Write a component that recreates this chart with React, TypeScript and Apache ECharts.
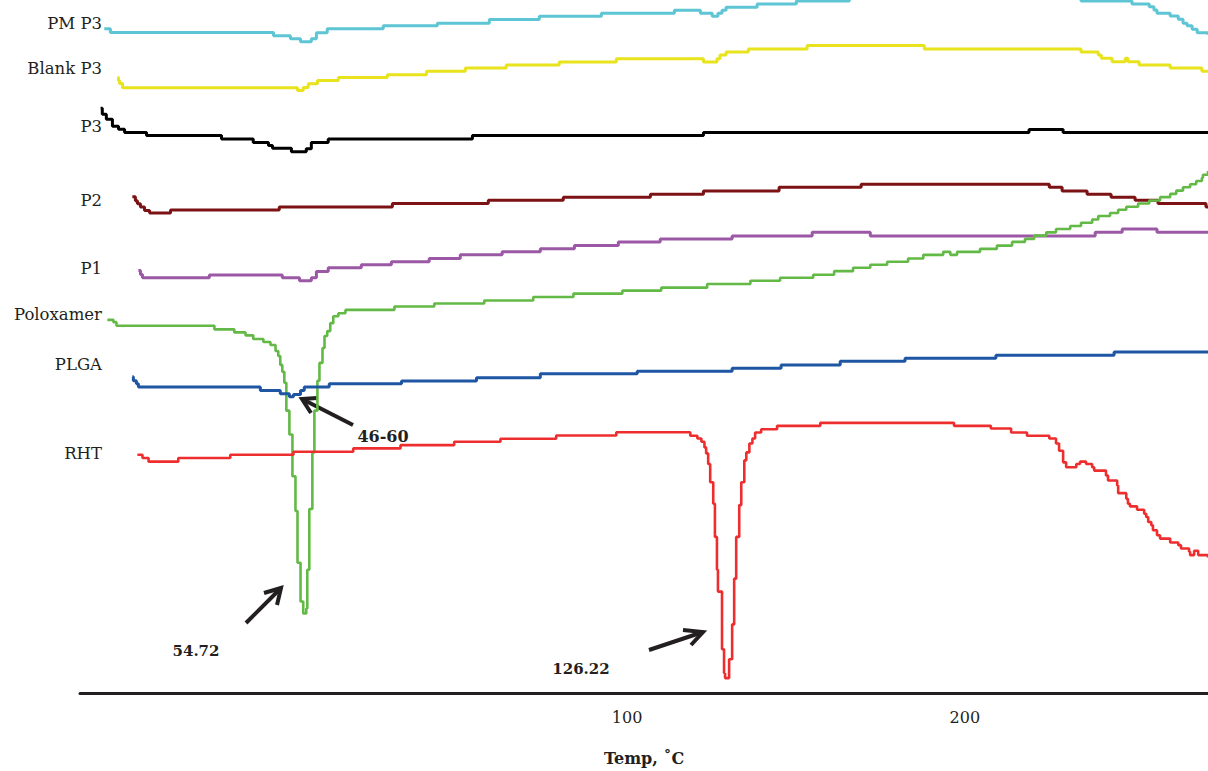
import { useEffect, useRef } from "react";
import * as echarts from "echarts";

type P = [number, number];

const seriesNames = ["PM P3", "Blank P3", "P3", "P2", "P1", "Poloxamer", "PLGA", "RHT"];
const seriesColors = ["#5ec5d5", "#e8e31c", "#000000", "#7c1214", "#9b59a5", "#63b946", "#1e56a4", "#ee2e2e"];
const xTickValues = [100, 200];
const xAxisTitle = "Temp, \u02DAC";

// Temperature (°C) vs heat-flow signal (arbitrary units, curves offset)
const pmP3: P[] = [
  [-54.8, 668], [-53.0, 664.3], [-4.7, 661], [0.3, 658], [3.3, 655], [6.5, 658], [8.0, 664], [11.2, 668],
  [27.8, 671], [43.8, 673.7], [59.2, 677.3], [74.0, 680.7], [92.4, 683.7], [114.0, 686.7], [121.7, 683.7],
  [125.2, 680.7], [126.9, 683.7], [128.1, 686.7], [129.3, 689.7], [138.5, 693], [150.1, 696], [165.8, 701],
  [234.4, 696], [249.5, 693], [254.6, 690.3], [256.0, 687], [256.9, 683.7], [260.8, 681], [263.2, 677.7],
  [264.6, 673.7], [265.8, 671], [267.3, 667.7], [268.8, 664], [272.0, 662],
];

const blankP3: P[] = [
  [-50.9, 619], [-50.6, 616], [-50.3, 613], [-49.4, 608.7], [2.4, 606], [4.1, 609], [5.6, 612.7], [8.3, 616],
  [14.5, 619], [29.0, 621.7], [40.6, 625.3], [52.1, 628.7], [64.2, 631.7], [79.9, 634.7], [96.8, 638],
  [122.6, 634.7], [126.6, 638], [127.5, 641.7], [129.3, 644.7], [135.9, 647.7], [153.3, 651.3], [188.0, 647.7],
  [234.4, 644.7], [239.5, 641.7], [240.4, 638.3], [243.6, 635], [247.5, 638.3], [248.3, 635], [251.6, 631.7],
  [260.8, 628.7], [270.2, 625.3], [272.0, 625.3],
];

const p3: P[] = [
  [-55.9, 588], [-55.4, 582], [-54.2, 577], [-52.4, 570], [-50.6, 567], [-48.8, 563.7], [-42.3, 560.7],
  [-20.1, 557.3], [-10.7, 553.7], [-6.2, 550.7], [-5.0, 548], [0.6, 544.3], [5.0, 547.3], [6.5, 553.7],
  [11.5, 557.3], [54.2, 560.7], [122.6, 563.7], [219.0, 566.7], [229.1, 563.7], [272.0, 563.7],
];

const p2: P[] = [
  [-46.5, 499], [-45.6, 495], [-45.0, 492], [-44.1, 488.7], [-42.9, 485.3], [-41.4, 482.7], [-35.2, 485.7],
  [-3.0, 488.7], [30.5, 492.3], [58.9, 495.7], [81.1, 498.7], [106.9, 501.7], [122.6, 505], [145.0, 508.7],
  [169.3, 511.7], [225.0, 508.7], [228.8, 505], [236.2, 501.7], [243.3, 498.7], [250.4, 495.7], [257.2, 492.3],
  [271.4, 488.7], [272.0, 488.7],
];

const p1: P[] = [
  [-44.7, 425], [-44.1, 421], [-43.5, 417.7], [-23.7, 420.3], [-2.1, 417.7], [3.0, 414.7], [6.5, 417.7],
  [8.0, 424], [11.5, 427.7], [21.3, 430.7], [30.2, 433.7], [41.4, 437], [50.6, 440.7], [63.0, 443.7],
  [74.3, 446.7], [84.4, 450], [97.4, 453.7], [109.8, 456.7], [131.1, 459.7], [154.8, 463.3], [172.0, 459.7],
  [238.6, 463.3], [246.6, 466.7], [256.9, 463.3], [272.0, 463.3],
];

const poloxamer: P[] = [
  [-53.9, 375.3], [-52.1, 373], [-51.2, 369.3], [-22.2, 365.7], [-16.3, 362.7], [-13.0, 359.7], [-10.7, 356],
  [-7.7, 353], [-5.6, 350], [-4.1, 344], [-3.3, 339], [-2.7, 330], [-2.1, 323], [-1.5, 312], [-0.9, 284],
  [0.0, 260], [0.9, 218], [1.8, 183], [2.4, 131], [3.3, 92], [4.1, 80], [5.0, 85], [5.3, 124], [5.9, 185],
  [6.8, 242], [7.4, 284], [8.3, 314], [8.9, 332], [9.8, 347], [10.4, 359], [11.2, 364], [12.1, 372],
  [13.0, 379], [14.5, 382], [16.6, 385.3], [31.1, 388.7], [42.9, 391.7], [57.7, 394.7], [72.2, 398.3],
  [84.1, 401.7], [98.6, 404.7], [110.1, 407.7], [123.7, 411.3], [136.5, 414.7], [145.3, 417.7], [155.1, 420.7],
  [161.3, 424.3], [166.9, 427.7], [172.0, 430.7], [177.0, 433.7], [183.2, 437], [187.7, 440.7], [193.6, 443.7],
  [195.7, 440.7], [197.7, 443.7], [204.5, 446.7], [209.5, 450], [214.0, 453.7], [217.8, 456.7], [220.5, 460],
  [224.1, 463.3], [227.0, 466.7], [231.2, 469.7], [234.4, 473], [237.7, 476.3], [239.5, 479.7], [243.0, 482.7],
  [245.4, 486], [247.8, 489], [251.3, 492.3], [254.6, 495.3], [257.8, 498.7], [260.8, 502], [262.6, 505.3],
  [264.6, 508.7], [266.7, 511.7], [268.5, 515], [270.2, 518.3], [270.5, 521.3], [272.0, 525],
];

const plga: P[] = [
  [-46.5, 318], [-46.2, 314], [-45.3, 311], [-44.7, 307.7], [-8.6, 304.3], [-2.7, 301], [0.0, 298], [1.2, 300.3],
  [3.3, 304.3], [4.4, 307.7], [11.8, 311], [33.2, 313.7], [55.4, 317], [74.3, 321], [103.0, 323.7],
  [131.1, 326.7], [145.6, 330], [163.1, 333.7], [182.3, 336.7], [209.2, 339.7], [244.2, 343], [272.0, 343],
];

const rht: P[] = [
  [-45.0, 239.7], [-43.5, 236.3], [-41.7, 232.7], [-32.9, 236.3], [-17.5, 239.7], [1.2, 242.7], [18.9, 246],
  [32.9, 249.3], [48.8, 252.7], [62.5, 255.7], [79.0, 259], [96.8, 262.3], [118.7, 258.7], [120.8, 256],
  [122.0, 252.7], [122.9, 247], [123.4, 241], [124.0, 230.3], [124.6, 212], [125.5, 190.3], [126.0, 157],
  [126.6, 124], [126.9, 102], [128.1, 44], [128.7, 20], [129.0, 15], [130.2, 34], [131.1, 69], [131.7, 115],
  [132.3, 157], [133.2, 189], [133.8, 212], [134.7, 234], [135.3, 242], [136.2, 251], [137.1, 256],
  [137.9, 262], [139.7, 265.3], [144.4, 268.7], [157.2, 271.7], [196.8, 268.7], [207.7, 266], [213.7, 262],
  [218.4, 258.7], [225.0, 256], [227.0, 251], [227.9, 243.7], [229.1, 232], [230.0, 227], [233.0, 230.3],
  [234.1, 232.7], [235.9, 230.3], [237.7, 227], [238.3, 223.7], [241.8, 218.7], [242.4, 213.7], [245.1, 208.7],
  [245.4, 201], [247.8, 195.3], [248.3, 190.3], [248.9, 187.7], [251.0, 184.3], [253.1, 180.3], [253.7, 177],
  [254.3, 172], [255.2, 168.7], [255.7, 163.7], [256.9, 158.7], [257.8, 155.3], [260.8, 151.3], [263.2, 148.7],
  [264.0, 145.3], [266.4, 142], [266.7, 138.7], [267.9, 143], [269.1, 138.7], [272.0, 136.3],
];

const seriesData: P[][] = [pmP3, blankP3, p3, p2, p1, poloxamer, plga, rht];

// Curve name labels (left side) — vertical centres
const labelYs = [23, 68, 126, 200, 268, 314, 364, 453];

// Peak annotations
const peakLabels = ["46-60", "54.72", "126.22"];

const INK = "#231f20";
const SERIF = '"DejaVu Serif", serif';

export default function App() {
  const ref = useRef<HTMLDivElement>(null);

  useEffect(() => {
    if (!ref.current) return;
    const chart = echarts.init(ref.current, undefined, { renderer: "svg" });

    const nameLabels = seriesNames.map((n, i) => ({
      type: "text",
      x: 102,
      y: labelYs[i],
      style: {
        text: n,
        fill: INK,
        fontSize: 16.5,
        fontFamily: SERIF,
        align: "right",
        verticalAlign: "middle",
      },
    }));

    const arrow = (tail: number[], tip: number[], w1: number[], w2: number[]) => [
      {
        type: "line",
        shape: { x1: tail[0], y1: tail[1], x2: tip[0], y2: tip[1] },
        style: { stroke: INK, lineWidth: 4 },
      },
      {
        type: "polyline",
        shape: { points: [w1, tip, w2] },
        style: { stroke: INK, lineWidth: 4, fill: null },
      },
    ];

    const peakText = (t: string, x: number, y: number, size: number) => ({
      type: "text",
      x,
      y,
      style: {
        text: t,
        fill: INK,
        fontSize: size,
        fontWeight: "bold",
        fontFamily: SERIF,
        align: "center",
        verticalAlign: "middle",
      },
    });

    chart.setOption({
      animation: false,
      backgroundColor: "#ffffff",
      grid: { left: 80, right: 0, top: 0, bottom: 74, containLabel: false },
      xAxis: {
        type: "value",
        min: -62,
        max: 272,
        name: xAxisTitle,
        nameLocation: "middle",
        nameGap: 57,
        nameTextStyle: { color: INK, fontSize: 16, fontWeight: "bold", fontFamily: SERIF },
        axisLine: { show: true, onZero: false, lineStyle: { color: INK, width: 3 } },
        axisTick: { show: false },
        splitLine: { show: false },
        axisLabel: {
          customValues: xTickValues,
          color: INK,
          fontSize: 16,
          fontFamily: SERIF,
          margin: 16,
        },
      },
      yAxis: { type: "value", min: 0, max: 697, show: false },
      series: seriesData.map((d, i) => ({
        name: seriesNames[i],
        type: "line",
        step: "end",
        data: d,
        showSymbol: false,
        symbol: "none",
        clip: true,
        lineStyle: { color: seriesColors[i], width: i >= 5 && i !== 6 ? 2.6 : 3 },
        z: i === 7 ? 4 : 2,
      })),
      graphic: [
        ...nameLabels,
        ...arrow([353, 425], [302, 399], [317, 398], [311, 413]),
        ...arrow([246, 623], [281, 588], [264, 593], [277, 605]),
        ...arrow([649, 650], [703, 632], [683, 630], [691, 645]),
        peakText(peakLabels[0], 383, 436, 16),
        peakText(peakLabels[1], 196, 651, 15),
        peakText(peakLabels[2], 581, 669, 15),
      ],
    });

    return () => chart.dispose();
  }, []);

  return (
    <div
      ref={ref}
      style={{ position: "absolute", left: 0, top: 0, width: 1208, height: 771, background: "#fff" }}
    />
  );
}
